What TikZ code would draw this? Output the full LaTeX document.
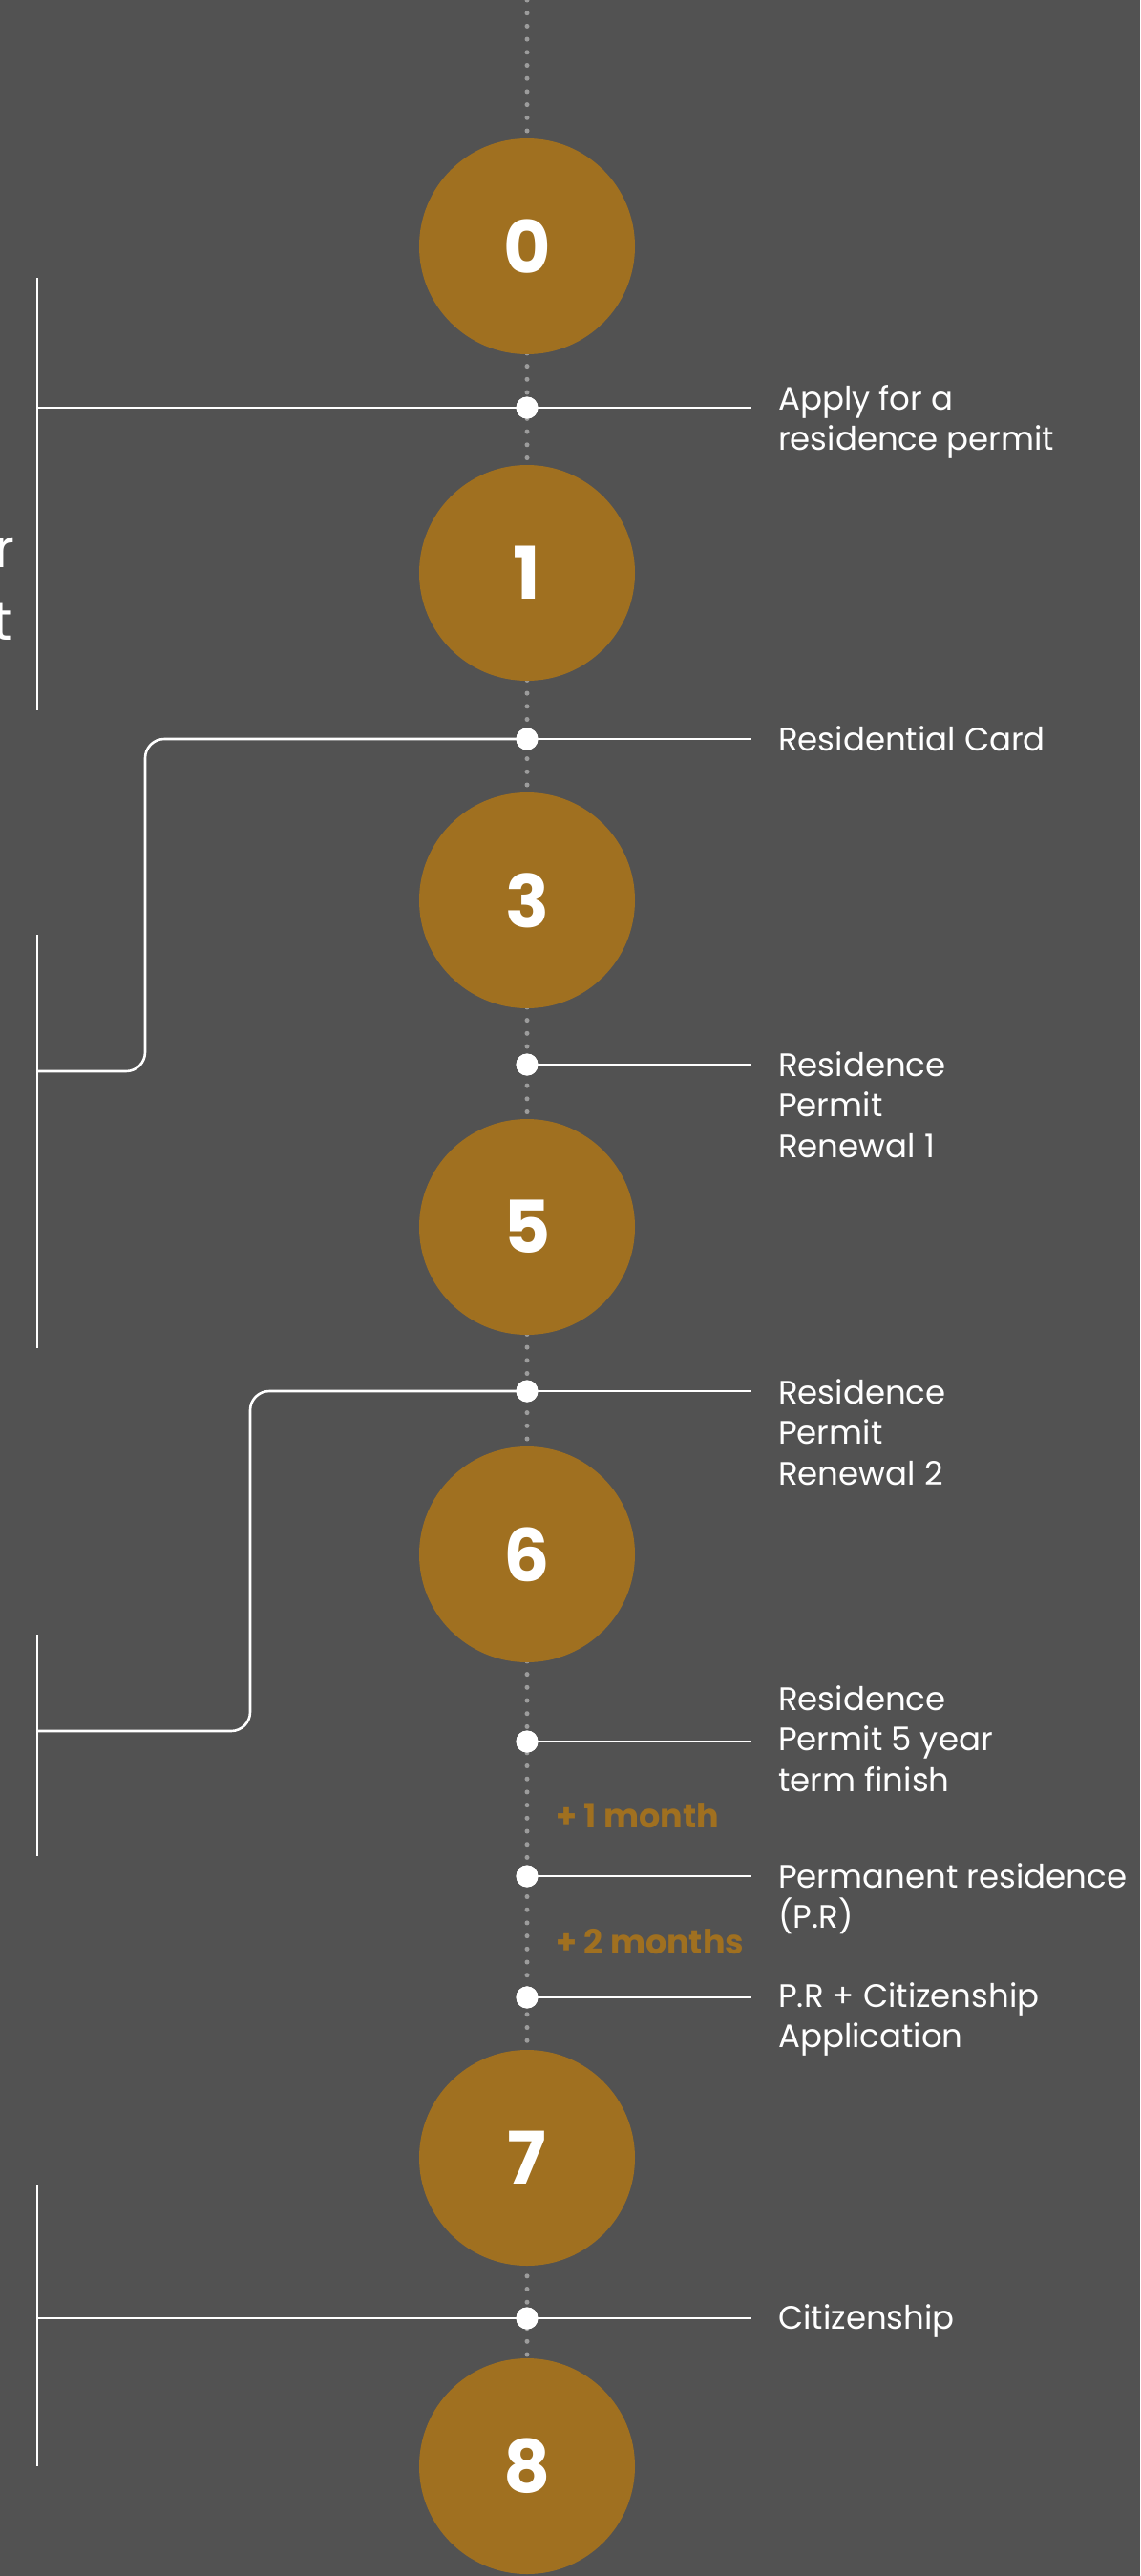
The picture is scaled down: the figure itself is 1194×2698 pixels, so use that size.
\documentclass[tikz,border=0pt]{standalone}
\usepackage{fontspec}
\newfontfamily\pop{Poppins}
\definecolor{bg}{HTML}{525252}
\definecolor{gold}{HTML}{A07020}
\definecolor{dotgray}{HTML}{9C9C9C}
\tikzset{
  circ/.style={circle, fill=gold, minimum size=226pt, inner sep=0pt, text=white,
    font=\pop\bfseries\fontsize{76}{80}\selectfont},
  tdot/.style={circle, fill=white, minimum size=23pt, inner sep=0pt},
  wline/.style={draw=white, line width=2.6pt},
  spine/.style={draw=dotgray, line width=5pt, line cap=round, dash pattern=on 0pt off 13.7pt},
  lbl/.style={anchor=base west, inner sep=0pt, text=white,
    font=\pop\fontsize{34}{42.5}\selectfont},
  gaplbl/.style={anchor=base west, inner sep=0pt, text=gold,
    font=\pop\bfseries\fontsize{35}{40}\selectfont},
  cutlbl/.style={anchor=base east, inner sep=0pt, text=white,
    font=\pop\fontsize{56}{60}\selectfont},
}
\begin{document}
\begin{tikzpicture}[x=1pt, y=-1pt]
\fill[bg] (0,0) rectangle (1194,2698);
\useasboundingbox (0,0) rectangle (1194,2698);

% spine
\coordinate (top) at (552,0);
\coordinate (bot) at (552,2582);
\draw[spine] (top) -- (bot);

% timeline dots
\node[tdot] (d1) at (552,427) {};
\node[tdot] (d2) at (552,774) {};
\node[tdot] (d3) at (552,1115) {};
\node[tdot] (d4) at (552,1457) {};
\node[tdot] (d5) at (552,1824) {};
\node[tdot] (d6) at (552,1965) {};
\node[tdot] (d7) at (552,2092) {};
\node[tdot] (d8) at (552,2428) {};

% right ends of label lines
\foreach \i/\yy in {1/427,2/774,3/1115,4/1457,5/1824,6/1965,7/2092,8/2428}{
  \coordinate (r\i) at (787,\yy);
}
\foreach \i in {1,...,8}{ \draw[wline] (d\i.center) -- (r\i); }

% left brackets
\coordinate (b1t) at (39,291);   \coordinate (b1b) at (39,744);  \coordinate (b1m) at (39,427);
\coordinate (b2t) at (39,979);   \coordinate (b2b) at (39,1412); \coordinate (b2m) at (39,1122);
\coordinate (b2k1) at (152,1122); \coordinate (b2k2) at (152,774);
\coordinate (b3t) at (39,1712);  \coordinate (b3b) at (39,1944); \coordinate (b3m) at (39,1813);
\coordinate (b3k1) at (262,1813); \coordinate (b3k2) at (262,1457);
\coordinate (b4t) at (39,2288);  \coordinate (b4b) at (39,2583); \coordinate (b4m) at (39,2428);

\draw[wline] (b1t) -- (b1b);
\draw[wline] (b1m) -- (d1.center);
\draw[wline] (b2t) -- (b2b);
\draw[wline, rounded corners=20pt] (b2m) -- (b2k1) -- (b2k2) -- (d2.center);
\draw[wline] (b3t) -- (b3b);
\draw[wline, rounded corners=20pt] (b3m) -- (b3k1) -- (b3k2) -- (d4.center);
\draw[wline] (b4t) -- (b4b);
\draw[wline] (b4m) -- (d8.center);

% redraw dots on top of lines
\foreach \i/\yy in {1/427,2/774,3/1115,4/1457,5/1824,6/1965,7/2092,8/2428}{
  \fill[white] (552,\yy) circle (11.5pt);
}

% year circles
\node[circ] (c0) at (552,258) {0};
\node[circ] (c1) at (552,600) {1};
\node[circ] (c3) at (552,943) {3};
\node[circ] (c5) at (552,1285) {5};
\node[circ] (c6) at (552,1628) {6};
\node[circ] (c7) at (552,2260) {7};
\node[circ] (c8) at (552,2583) {8};

% labels
\node[lbl] (l1) at (815,429) {\vtop{\hbox{Apply for a}\hbox{residence permit}}};
\node[lbl] (l2) at (815,786) {Residential Card};
\node[lbl] (l3) at (815,1127) {\vtop{\hbox{Residence}\hbox{Permit}\hbox{Renewal 1}}};
\node[lbl] (l4) at (815,1470) {\vtop{\hbox{Residence}\hbox{Permit}\hbox{Renewal 2}}};
\node[lbl] (l5) at (815,1791) {\vtop{\hbox{Residence}\hbox{Permit 5 year}\hbox{term finish}}};
\node[lbl] (l6) at (815,1977) {\vtop{\hbox{Permanent residence}\hbox{(P.R)}}};
\node[lbl] (l7) at (815,2102) {\vtop{\hbox{P.R + Citizenship}\hbox{Application}}};
\node[lbl] (l8) at (815,2439) {Citizenship};

% interval labels
\node[gaplbl] (g1) at (582,1914) {+ 1 month};
\node[gaplbl] (g2) at (582,2046) {+ 2 months};

% clipped left text
\node[cutlbl] (cr) at (16,594) {r};
\node[cutlbl] (ct) at (13,670) {t};
\end{tikzpicture}
\end{document}
